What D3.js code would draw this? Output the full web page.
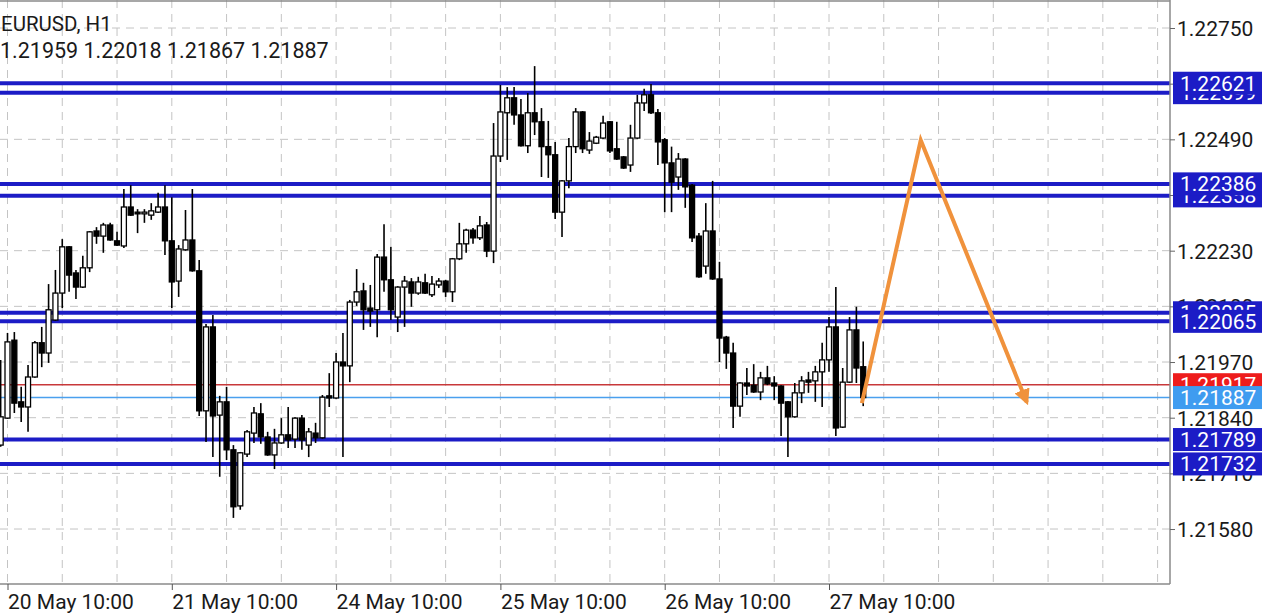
<!DOCTYPE html>
<html><head><meta charset="utf-8">
<script src="https://cdn.jsdelivr.net/npm/d3@7"></script>
<style>
html,body{margin:0;padding:0;background:#fff;}
svg{display:block;font-family:Roboto, "Noto Sans", sans-serif;}
</style></head>
<body>
<svg id="c" width="1280" height="616"></svg>
<script>
// ---------- DATA ----------
const symbolTitle = "EURUSD, H1";
const ohlcTitle = "1.21959 1.22018 1.21867 1.21887";
const firstBarIndex = -1;
const opens = [1.21776,1.21839,1.22021,1.21877,1.21865,1.21935,1.22015,1.21991,1.22068,1.22131,1.22239,1.22178,1.22145,1.22190,1.22276,1.22264,1.22290,1.22253,1.22241,1.22332,1.22320,1.22316,1.22313,1.22320,1.22332,1.22253,1.22159,1.22232,1.22255,1.22183,1.21856,1.22052,1.21846,1.21877,1.21765,1.21634,1.21755,1.21804,1.21849,1.21795,1.21753,1.21781,1.21800,1.21790,1.21839,1.21776,1.21804,1.21793,1.21891,1.21886,1.21970,1.21961,1.22110,1.22136,1.22096,1.22092,1.22215,1.22162,1.22075,1.22145,1.22157,1.22131,1.22155,1.22127,1.22150,1.22159,1.22134,1.22211,1.22246,1.22278,1.22260,1.22290,1.22229,1.22451,1.22552,1.22587,1.22547,1.22475,1.22552,1.22531,1.22473,1.22454,1.22320,1.22393,1.22473,1.22554,1.22465,1.22481,1.22493,1.22531,1.22468,1.22449,1.22430,1.22493,1.22575,1.22594,1.22552,1.22489,1.22435,1.22402,1.22444,1.22383,1.22264,1.22194,1.22276,1.22164,1.22028,1.21991,1.21867,1.21921,1.21916,1.21900,1.21933,1.21921,1.21914,1.21877,1.21842,1.21898,1.21928,1.21926,1.21947,1.21975,1.22052,1.21818,1.21923,1.22045,1.21959];
const highs = [1.21975,1.22038,1.22040,1.21912,1.21963,1.22019,1.22052,1.22152,1.22185,1.22257,1.22241,1.22185,1.22218,1.22276,1.22285,1.22295,1.22295,1.22274,1.22374,1.22383,1.22327,1.22327,1.22341,1.22365,1.22383,1.22355,1.22243,1.22325,1.22374,1.22208,1.22059,1.22080,1.21891,1.21912,1.21776,1.21760,1.21811,1.21865,1.21874,1.21807,1.21814,1.21839,1.21865,1.21841,1.21846,1.21816,1.21828,1.21893,1.21944,1.21991,1.22038,1.22115,1.22187,1.22155,1.22150,1.22222,1.22292,1.22239,1.22147,1.22171,1.22166,1.22169,1.22176,1.22171,1.22166,1.22162,1.22213,1.22295,1.22281,1.22283,1.22311,1.22297,1.22528,1.22617,1.22612,1.22612,1.22584,1.22598,1.22661,1.22563,1.22533,1.22484,1.22395,1.22493,1.22563,1.22556,1.22507,1.22498,1.22545,1.22533,1.22531,1.22451,1.22524,1.22594,1.22608,1.22619,1.22561,1.22493,1.22473,1.22458,1.22446,1.22386,1.22271,1.22341,1.22393,1.22204,1.22031,1.22015,1.21923,1.21956,1.21965,1.21947,1.21961,1.21937,1.21916,1.21879,1.21921,1.21937,1.21947,1.21961,1.22015,1.22075,1.22145,1.21956,1.22075,1.22099,1.22018];
const lows = [1.21772,1.21837,1.21851,1.21830,1.21807,1.21933,1.21958,1.21968,1.22066,1.22096,1.22134,1.22117,1.22143,1.22180,1.22246,1.22225,1.22253,1.22241,1.22236,1.22311,1.22271,1.22295,1.22302,1.22318,1.22220,1.22096,1.22122,1.22230,1.22181,1.21844,1.21783,1.21748,1.21702,1.21741,1.21606,1.21625,1.21748,1.21781,1.21779,1.21751,1.21720,1.21779,1.21769,1.21769,1.21765,1.21748,1.21781,1.21791,1.21865,1.21884,1.21748,1.21923,1.22101,1.22045,1.22052,1.22028,1.22134,1.22068,1.22040,1.22052,1.22099,1.22127,1.22129,1.22122,1.22143,1.22122,1.22110,1.22208,1.22225,1.22246,1.22255,1.22215,1.22201,1.22437,1.22442,1.22524,1.22473,1.22458,1.22500,1.22402,1.22400,1.22304,1.22262,1.22376,1.22458,1.22458,1.22456,1.22479,1.22491,1.22458,1.22442,1.22421,1.22414,1.22491,1.22556,1.22549,1.22430,1.22320,1.22320,1.22372,1.22330,1.22250,1.22167,1.22176,1.22162,1.21970,1.21954,1.21816,1.21842,1.21893,1.21898,1.21881,1.21916,1.21881,1.21797,1.21748,1.21840,1.21874,1.21898,1.21877,1.21865,1.21947,1.21797,1.21816,1.21921,1.21921,1.21867];
const closes = [1.21842,1.22017,1.21874,1.21865,1.21935,1.22015,1.21991,1.22092,1.22131,1.22239,1.22173,1.22145,1.22190,1.22274,1.22264,1.22290,1.22255,1.22243,1.22332,1.22313,1.22316,1.22320,1.22323,1.22332,1.22253,1.22157,1.22234,1.22255,1.22183,1.21856,1.22052,1.21844,1.21877,1.21765,1.21632,1.21758,1.21807,1.21851,1.21795,1.21753,1.21781,1.21800,1.21788,1.21839,1.21788,1.21807,1.21793,1.21888,1.21886,1.21970,1.21961,1.22110,1.22134,1.22092,1.22089,1.22215,1.22162,1.22092,1.22145,1.22159,1.22131,1.22157,1.22131,1.22152,1.22159,1.22134,1.22211,1.22246,1.22278,1.22260,1.22288,1.22229,1.22451,1.22554,1.22587,1.22547,1.22475,1.22552,1.22531,1.22473,1.22454,1.22320,1.22393,1.22473,1.22554,1.22468,1.22486,1.22495,1.22528,1.22463,1.22444,1.22423,1.22493,1.22575,1.22594,1.22552,1.22484,1.22435,1.22390,1.22444,1.22379,1.22260,1.22169,1.22276,1.22164,1.22026,1.21991,1.21867,1.21921,1.21914,1.21900,1.21933,1.21919,1.21914,1.21874,1.21842,1.21898,1.21926,1.21923,1.21947,1.21975,1.22052,1.21816,1.21923,1.22045,1.21956,1.21887];

const dayTickIndex = [0, 24, 48, 72, 96, 120];
const dayTickLabels = ["20 May 10:00","21 May 10:00","24 May 10:00","25 May 10:00","26 May 10:00","27 May 10:00"];
const priceTicks = [1.22750,1.22620,1.22490,1.22360,1.22230,1.22100,1.21970,1.21840,1.21710,1.21580];

const levelPrices = [1.22599,1.22621,1.22358,1.22386,1.22085,1.22065,1.21789,1.21732];
const askPrice = 1.21917;
const bidPrice = 1.21887;

const arrowIndex = [124.8, 133.4, 148.9];
const arrowPrice = [1.21874, 1.22488, 1.21876];

// ---------- LAYOUT ----------
const W = 1280, H = 616;
const plotRight = 1170, plotBottom = 584;
const svg = d3.select("#c");

const x = d3.scaleLinear().domain([0, 120]).range([7.5, 829]);
const y = d3.scaleLinear().domain([1.2145, 1.2275]).range([584.7, 28]);

const bars = opens.map((o, k) => ({i: firstBarIndex + k, o, h: highs[k], l: lows[k], c: closes[k]}));

// grid
const gridG = svg.append("g");
const gridX = d3.range(0, 22).map(k => k * 8);
gridG.selectAll("line.gv").data(gridX).join("line")
  .attr("x1", d => x(d)).attr("x2", d => x(d))
  .attr("y1", 0).attr("y2", plotBottom)
  .attr("stroke", "#c4c4c4").attr("stroke-width", 1).attr("stroke-dasharray", "8,6");
gridG.selectAll("line.gh").data(priceTicks).join("line")
  .attr("x1", 0).attr("x2", plotRight)
  .attr("y1", d => y(d)).attr("y2", d => y(d))
  .attr("stroke", "#c4c4c4").attr("stroke-width", 1).attr("stroke-dasharray", "8,6");

// horizontal level lines
const lvG = svg.append("g");
lvG.selectAll("line").data(levelPrices).join("line")
  .attr("x1", 0).attr("x2", plotRight)
  .attr("y1", d => y(d)).attr("y2", d => y(d))
  .attr("stroke", "#1c1cc6").attr("stroke-width", 4);
lvG.append("line").attr("x1", 0).attr("x2", plotRight)
  .attr("y1", y(askPrice)).attr("y2", y(askPrice))
  .attr("stroke", "#c8383a").attr("stroke-width", 1.5);
lvG.append("line").attr("x1", 0).attr("x2", plotRight)
  .attr("y1", y(bidPrice)).attr("y2", y(bidPrice))
  .attr("stroke", "#4aa0ee").attr("stroke-width", 1.5);

// candles
const bw = 5;
const cG = svg.append("g");
cG.selectAll("line.wick").data(bars).join("line")
  .attr("x1", d => x(d.i)).attr("x2", d => x(d.i))
  .attr("y1", d => y(d.h)).attr("y2", d => y(d.l))
  .attr("stroke", "#000").attr("stroke-width", 1.6);
cG.selectAll("rect.body").data(bars).join("rect")
  .attr("x", d => x(d.i) - bw / 2)
  .attr("width", bw)
  .attr("y", d => y(Math.max(d.o, d.c)))
  .attr("height", d => Math.max(1.2, Math.abs(y(d.o) - y(d.c))))
  .attr("fill", d => d.c > d.o ? "#fff" : "#000")
  .attr("stroke", "#000").attr("stroke-width", 1.3);

// arrow
const defs = svg.append("defs");
defs.append("marker").attr("id", "ah").attr("viewBox", "0 0 10 10")
  .attr("refX", 8).attr("refY", 5).attr("markerWidth", 4).attr("markerHeight", 4)
  .attr("orient", "auto-start-reverse").attr("markerUnits", "strokeWidth")
  .append("path").attr("d", "M0,0L10,5L0,10z").attr("fill", "#f0923c");
const arrowPts = arrowIndex.map((v, k) => [v, arrowPrice[k]]);
svg.append("path")
  .attr("d", d3.line().x(d => x(d[0])).y(d => y(d[1]))(arrowPts))
  .attr("fill", "none").attr("stroke", "#f0923c").attr("stroke-width", 4)
  .attr("stroke-linejoin", "miter").attr("marker-end", "url(#ah)");

// frame
svg.append("line").attr("x1", 0).attr("x2", plotRight).attr("y1", 1).attr("y2", 1)
  .attr("stroke", "#8a8a8a").attr("stroke-width", 1.5);
svg.append("line").attr("x1", plotRight).attr("x2", plotRight).attr("y1", 0).attr("y2", plotBottom)
  .attr("stroke", "#8a8a8a").attr("stroke-width", 1.5);
svg.append("line").attr("x1", 0).attr("x2", plotRight).attr("y1", plotBottom).attr("y2", plotBottom)
  .attr("stroke", "#8a8a8a").attr("stroke-width", 1.5);

// right axis
const yAxis = d3.axisRight(y).tickValues(priceTicks).tickFormat(d3.format(".5f")).tickSize(5).tickPadding(2);
const ya = svg.append("g").attr("transform", `translate(${plotRight},0)`).call(yAxis);
ya.select(".domain").remove();
ya.selectAll(".tick line").attr("stroke", "#666");
ya.selectAll(".tick text").attr("font-size", 21).attr("fill", "#1a1a1a")
  .attr("font-family", "Roboto, sans-serif").attr("dy", "0.35em");

// bottom axis
const xAxis = d3.axisBottom(x).tickValues(dayTickIndex).tickFormat((d, k) => dayTickLabels[k]).tickSize(6).tickPadding(4);
const xa = svg.append("g").attr("transform", `translate(0,${plotBottom})`).call(xAxis);
xa.select(".domain").remove();
xa.selectAll(".tick line").attr("stroke", "#555");
xa.selectAll(".tick text").attr("font-size", 21).attr("fill", "#1a1a1a")
  .attr("font-family", "Roboto, sans-serif").attr("text-anchor", "start").attr("dx", 0).attr("dy", "0.7em");

// price label boxes
const boxes = levelPrices.map(p => ({p, fill: "#1c1cc6"}))
  .slice(0, 6)
  .concat([{p: askPrice, fill: "#ee1c1c"}, {p: bidPrice, fill: "#3f9cf0"}])
  .concat(levelPrices.slice(6).map(p => ({p, fill: "#1c1cc6"})));
const bG = svg.append("g");
boxes.forEach(b => {
  const g = bG.append("g");
  g.append("rect").attr("x", 1173).attr("y", y(b.p) - 11.5).attr("width", 89).attr("height", 23).attr("fill", b.fill);
  g.append("text").attr("x", 1180).attr("y", y(b.p)).attr("dy", "0.36em")
    .attr("font-size", 21).attr("fill", "#fff").text(d3.format(".5f")(b.p));
});

// title
svg.append("text").attr("x", 1).attr("y", 31).attr("font-size", 20.5).attr("fill", "#1a1a1a").text(symbolTitle);
svg.append("text").attr("x", 0).attr("y", 58).attr("font-size", 21.5).attr("fill", "#1a1a1a").text(ohlcTitle);
</script>
</body></html>
